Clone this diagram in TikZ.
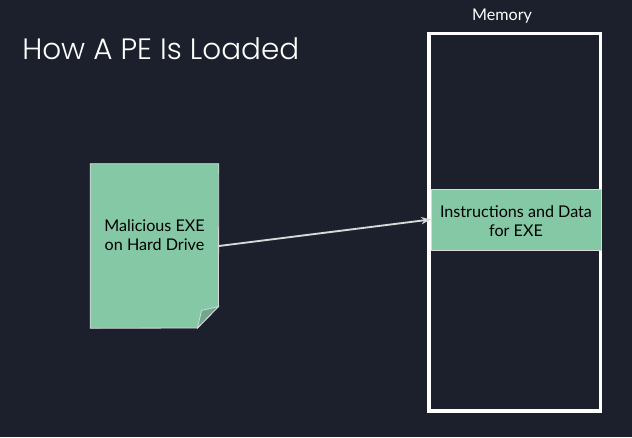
\documentclass[tikz,border=0pt]{standalone}
\usepackage{fontspec}
\setmainfont{Lato}
\newfontfamily\titlefont{Poppins Light}
\usetikzlibrary{arrows.meta}
\definecolor{darkbg}{HTML}{1B202C}
\definecolor{softgreen}{HTML}{84C8A5}
\definecolor{foldgreen}{HTML}{70A88C}
\definecolor{linegray}{HTML}{D6D9D8}
\tikzset{
  greenbox/.style={fill=softgreen,draw=linegray,line width=0.6pt,inner sep=0pt},
  darklabel/.style={align=center,text=black,inner sep=0pt},
  flowarrow/.style={draw=linegray,line width=1.4pt,-{Stealth[length=7pt,width=5.5pt]}}
}

\begin{document}
\begin{tikzpicture}[x=0.75pt,y=-0.75pt,every node/.style={font=\fontsize{12.1}{14.3}\selectfont}]
  \fill[darkbg] (0,0) rectangle (632,437);
  \useasboundingbox (0,0) rectangle (632,437);
  \node[anchor=west,text=white,inner sep=0pt,font=\titlefont\fontsize{22.1}{26}\selectfont] (pagetitle) at (22,48.5) {How A PE Is Loaded};
  \node[draw=white,line width=2.6pt,minimum width=128.5pt,minimum height=283pt,inner sep=0pt] (memorybox) at (514.7,222.25) {};
  \node[text=white,inner sep=0pt] (memorylabel) at (502,16) {Memory};
  \node[greenbox,minimum width=127.5pt,minimum height=45.75pt] (datablock) at (516,219.5) {};
  \node[darklabel] (datalabel) at (516,221) {Instructions and Data\\for EXE};
  % page with a folded corner
  \node[minimum width=96pt,minimum height=123pt,inner sep=0pt] (exedoc) at (154.5,246) {};
  \fill[softgreen,draw=linegray,line width=0.6pt] (exedoc.north west) -- (exedoc.north east) -- (218.5,306.5) -- (197.5,328) -- (exedoc.south west) -- cycle;
  \fill[foldgreen,draw=linegray,line width=0.6pt] (218.5,306.5) -- (201.5,310.5) -- (197.5,328) -- cycle;
  \node[darklabel] (exelabel) at (154.5,235.5) {Malicious EXE\\on Hard Drive};
  \draw[flowarrow] (exedoc.east) -- (datablock.west);
\end{tikzpicture}
\end{document}
